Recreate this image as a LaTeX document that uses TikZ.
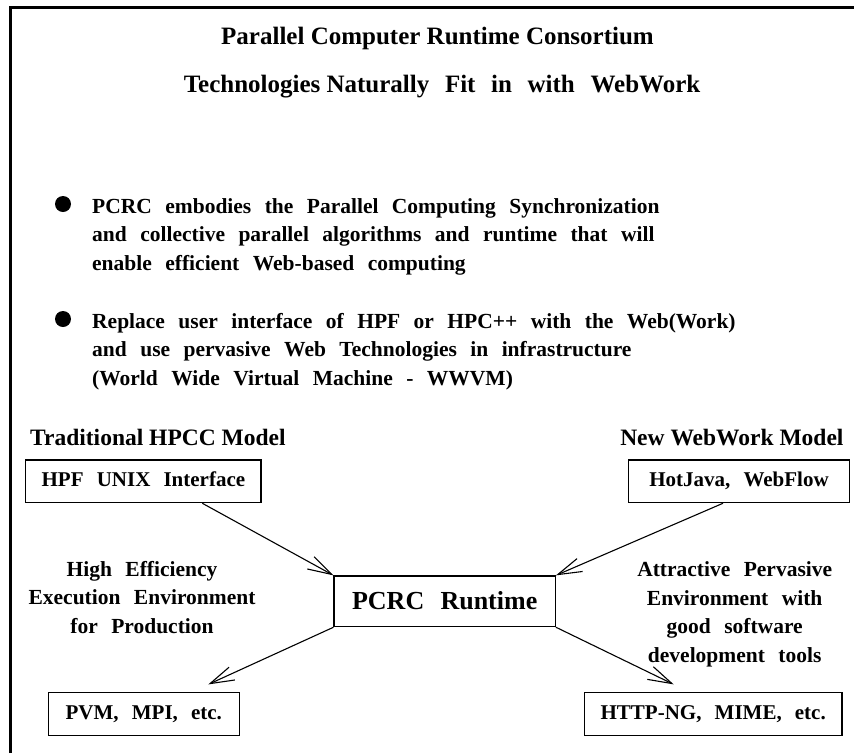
\documentclass[tikz,border=0pt]{standalone}
\usepackage{fontspec}
\setmainfont{Liberation Serif}
\newfontfamily\widefont{Liberation Serif}[WordSpace=2.5]
\usetikzlibrary{arrows.meta}

\tikzset{
  title/.style={font=\fontsize{25}{30}\selectfont\bfseries, inner sep=0pt},
  model/.style={font=\fontsize{23.5}{28}\selectfont\bfseries, inner sep=0pt},
  txt/.style={font=\fontsize{21.5}{28.5}\selectfont\widefont\bfseries, inner sep=0pt},
  box/.style={draw, line width=1.2pt, inner sep=0pt, text height=14pt, text depth=4pt, font=\fontsize{21}{25}\selectfont\widefont\bfseries},
  dot/.style={circle, fill, inner sep=0pt, minimum size=16pt},
  link/.style={line width=1.1pt, -{Straight Barb[length=24pt,width=14pt]}},
}

\begin{document}
\begin{tikzpicture}[x=1pt,y=-1pt]
 	\useasboundingbox (0,0) rectangle (854,753);
 	\draw[line width=2.8pt] (10.7,753) -- (10.7,7.8) -- (854,7.8);
 	\node[title, anchor=base] (head) at (437.5,44) {Parallel Computer Runtime Consortium};
 	\node[title, anchor=base] (sub) at (442,92.3) {Technologies Naturally{\widefont\ Fit in with WebWork}};
 	% bullets
 	\node[dot] (b1) at (63,204) {};
 	\node[txt, anchor=base west, align=left] (item1) at (92,270) {PCRC embodies the Parallel Computing Synchronization\\and collective parallel algorithms and runtime that will\\enable efficient Web-based computing};
 	\node[dot] (b2) at (63,319) {};
 	\node[txt, anchor=base west, align=left] (item2) at (92,385) {Replace user interface of HPF or HPC++ with the Web(Work)\\and use pervasive Web Technologies in infrastructure\\(World Wide Virtual Machine - WWVM)};
 	% models
 	\node[model, anchor=base west] (trad) at (30,445) {Traditional HPCC Model};
 	\node[model, anchor=base east] (new) at (843.7,445) {New WebWork Model};
 	\node[box, minimum width=235.3pt, minimum height=42.7pt] (hpf) at (143.4,481.3) {HPF UNIX Interface};
 	\node[box, minimum width=220.6pt, minimum height=42.7pt] (hot) at (739,481.3) {HotJava, WebFlow};
 	\node[box, minimum width=221.3pt, minimum height=50.7pt, text height=18pt, text depth=1pt, font=\fontsize{26}{30}\selectfont\widefont\bfseries] (pcrc) at (444.7,601.3) {PCRC Runtime};
 	\node[box, minimum width=191pt, minimum height=43.4pt] (pvm) at (143.8,714) {PVM, MPI, etc.};
 	\node[box, minimum width=257.7pt, minimum height=43.4pt] (http) at (713.2,714) {HTTP-NG, MIME, etc.};
 	\node[txt, anchor=base, align=center] (eff) at (142,633) {High Efficiency\\Execution Environment\\for Production};
 	\node[txt, anchor=base, align=center] (attr) at (734.7,662) {Attractive Pervasive\\Environment with\\good software\\development tools};
 	\draw[link] ([xshift=58.9pt]hpf.south) -- (pcrc.north west);
 	\draw[link] ([xshift=-16pt]hot.south) -- (pcrc.north east);
 	\draw[link] (pcrc.south west) -- ([xshift=64.5pt,yshift=7.3pt]pvm.north);
 	\draw[link] (pcrc.south east) -- ([xshift=-39.5pt,yshift=7.3pt]http.north);
\end{tikzpicture}
\end{document}
